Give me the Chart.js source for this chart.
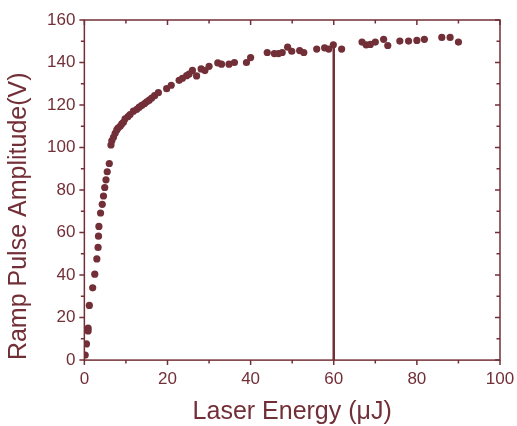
<!DOCTYPE html>
<html>
<head>
<meta charset="utf-8">
<script src="https://cdn.jsdelivr.net/npm/chart.js@4"></script>
<style>
  body { margin: 0; background: #fff; }
  #wrap { width: 517px; height: 426px; }
</style>
</head>
<body>
<div id="wrap"><canvas id="chart" width="517" height="426"></canvas></div>
<script>
// Laser energy (uJ) vs ramp pulse amplitude (V)
const energy = [
  0.2, 0.5, 0.9, 0.9, 1.2, 2.0, 2.5, 3.0, 3.3, 3.4, 3.5, 3.9, 4.3, 4.6, 4.9, 5.2, 5.5, 6.0,
  6.4, 6.6, 7.0, 7.4, 7.8, 8.1, 8.6, 9.0, 9.4, 9.8, 10.5, 11.0, 11.8, 12.6, 13.2, 13.8,
  14.5, 15.0, 15.6, 16.2, 16.9, 17.8, 19.8, 20.9, 22.8, 23.6, 24.6, 25.2, 26.0, 27.0,
  28.1, 29.0, 30.0, 32.1, 33.0, 34.8, 36.1, 39.0, 40.0, 44.0, 45.7, 46.7, 47.6, 48.9,
  49.9, 51.8, 52.8, 55.9, 57.8, 58.8, 59.9, 61.9, 66.8, 67.8, 68.8, 70.0, 72.0, 73.0,
  75.9, 78.0, 80.0, 81.8, 86.0, 88.0, 90.0
];
const amplitude = [
  2.4, 7.6, 13.7, 15.0, 25.7, 34.0, 40.4, 47.6, 53.0, 58.3, 62.9, 69.2, 73.3, 77.2, 81.2, 84.8, 88.6, 92.5,
  101.2, 103.2, 104.8, 106.7, 108.3, 109.2, 110.0, 111.1, 111.9, 113.5, 114.6, 115.5, 117.1, 118.0, 119.0, 119.8,
  120.7, 121.5, 122.3, 123.3, 124.4, 125.8, 127.7, 129.3, 131.6, 132.6, 133.8, 134.6, 136.3, 133.7,
  137.0, 136.2, 138.2, 139.8, 139.2, 139.2, 140.0, 140.0, 142.3, 144.7, 144.2, 144.2, 144.7, 147.2,
  145.3, 145.6, 144.7, 146.3, 146.9, 146.3, 148.3, 146.3, 149.6, 148.3, 148.5, 149.6, 150.9, 148.0,
  150.1, 150.1, 150.4, 150.9, 151.8, 151.8, 149.6
];
// vertical marker at 60 uJ
const markerX = [60, 60];
const markerY = [0, 148];

const xTicks = [0, 20, 40, 60, 80, 100];
const yTicks = [0, 20, 40, 60, 80, 100, 120, 140, 160];

const ink = "#722f37";

// tick marks: outside on bottom/left, inside on top/right, plus the frame
const frameTicks = {
  id: "frameTicks",
  afterDraw(chart) {
    const { ctx, chartArea: a, scales } = chart;
    ctx.save();
    ctx.strokeStyle = ink;
    ctx.lineWidth = 1.5;
    ctx.strokeRect(a.left, a.top, a.right - a.left, a.bottom - a.top);
    for (let v = 0; v <= 100; v += 10) {
      const px = scales.x.getPixelForValue(v);
      const len = v % 20 === 0 ? 5 : 3.5;
      ctx.beginPath();
      ctx.moveTo(px, a.bottom); ctx.lineTo(px, a.bottom + len);
      ctx.moveTo(px, a.top); ctx.lineTo(px, a.top + len);
      ctx.stroke();
    }
    for (let v = 0; v <= 160; v += 10) {
      const py = scales.y.getPixelForValue(v);
      const len = v % 20 === 0 ? 5 : 3.5;
      ctx.beginPath();
      ctx.moveTo(a.left, py); ctx.lineTo(a.left - len, py);
      ctx.moveTo(a.right, py); ctx.lineTo(a.right - len, py);
      ctx.stroke();
    }
    ctx.restore();
  }
};

new Chart(document.getElementById("chart"), {
  type: "scatter",
  data: {
    datasets: [
      {
        data: markerX.map((x, i) => ({ x: x, y: markerY[i] })),
        showLine: true,
        borderColor: ink,
        borderWidth: 2.5,
        pointRadius: 0,
      },
      {
        data: energy.map((x, i) => ({ x: x, y: amplitude[i] })),
        backgroundColor: ink,
        borderColor: ink,
        borderWidth: 0,
        pointRadius: 3.6,
      },
    ],
  },
  options: {
    responsive: false,
    animation: false,
    layout: { padding: { left: 4, right: 17, top: 20, bottom: 0 } },
    plugins: { legend: { display: false }, tooltip: { enabled: false } },
    scales: {
      x: {
        type: "linear",
        min: 0,
        max: 100,
        afterBuildTicks: (s) => { s.ticks = xTicks.map((v) => ({ value: v })); },
        afterFit: (s) => { s.paddingRight = 0; },
        ticks: {
          color: ink,
          padding: 9,
          maxRotation: 0,
          font: { family: "Liberation Sans, Arial, sans-serif", size: 17 },
        },
        grid: { display: true, drawOnChartArea: false, drawTicks: false, color: "transparent" },
        border: { display: false },
        title: {
          display: true,
          text: "Laser Energy (\u03bcJ)",
          color: ink,
          padding: { top: 0, bottom: 0 },
          font: { family: "Liberation Sans, Arial, sans-serif", size: 25, lineHeight: 1.1 },
        },
      },
      y: {
        type: "linear",
        min: 0,
        max: 160,
        afterBuildTicks: (s) => { s.ticks = yTicks.map((v) => ({ value: v })); },
        afterFit: (s) => { s.paddingTop = 0; },
        ticks: {
          color: ink,
          padding: 9,
          font: { family: "Liberation Sans, Arial, sans-serif", size: 17 },
        },
        grid: { display: true, drawOnChartArea: false, drawTicks: false, color: "transparent" },
        border: { display: false },
        title: {
          display: true,
          text: "Ramp Pulse Amplitude(V)",
          color: ink,
          align: "start",
          padding: { top: 0, bottom: 4 },
          font: { family: "Liberation Sans, Arial, sans-serif", size: 25 },
        },
      },
    },
  },
  plugins: [frameTicks],
});
</script>
</body>
</html>
